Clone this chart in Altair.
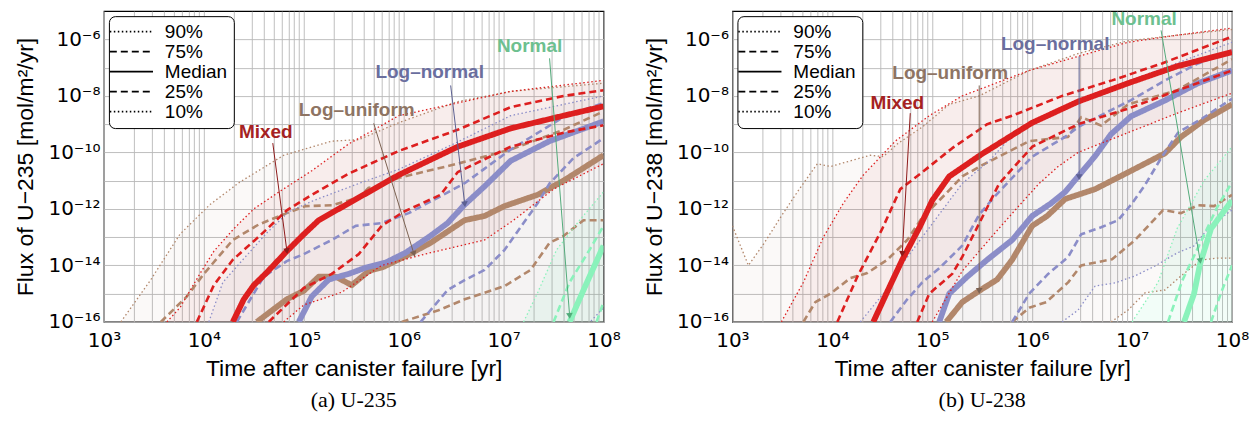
import math
import altair as alt
import pandas as pd

# ---------------- values ----------------
# every line: list of (log10 time [yr], log10 flux [mol/m2/yr])
# ---- (a) U-235 ----
A_MIX_90 = [(3.63,-16),(3.76,-15.5),(3.96,-14.3),(4.1,-13.5),(4.3,-12.7),(4.5,-12.0),(4.73,-11.45),(5.08,-10.65),(5.45,-9.7),(5.95,-8.7),(6.54,-8.25),(7.07,-7.84),(8.0,-7.45)]
A_MIX_75 = [(3.93,-16),(4.1,-14.7),(4.29,-13.8),(4.56,-12.95),(4.83,-12.05),(5.08,-11.5),(5.45,-10.75),(5.95,-9.95),(6.54,-9.2),(7.07,-8.4),(7.6,-8.0),(8.0,-7.8)]
A_MIX_50 = [(4.29,-16),(4.4,-15.2),(4.5,-14.7),(4.63,-14.25),(4.83,-13.5),(5.0,-12.9),(5.15,-12.4),(5.3,-12.1),(5.55,-11.6),(5.95,-10.8),(6.54,-9.8),(7.07,-9.15),(7.6,-8.7),(8.0,-8.37)]
A_MIX_25 = [(4.65,-16),(5.0,-14.8),(5.28,-14.3),(5.55,-13.6),(5.78,-12.6),(6.0,-12.1),(6.37,-11.5),(6.54,-10.7),(7.07,-9.8),(7.6,-9.3),(8.0,-9.04)]
A_MIX_10 = [(4.8,-16),(5.0,-15.4),(5.38,-14.95),(5.78,-14.0),(6.27,-13.55),(6.81,-13.1),(7.1,-12.4),(7.5,-11.3),(8.0,-10.4)]

A_LU_90 = [(3.17,-16),(3.47,-14.5),(3.76,-12.9),(4.06,-11.85),(4.36,-11.05),(4.8,-10.1),(5.28,-9.6),(5.55,-9.55),(5.95,-8.95),(6.54,-8.2),(7.07,-7.84),(8.0,-7.55)]
A_LU_75 = [(3.57,-16),(3.83,-15.1),(4.0,-14.3),(4.29,-13.1),(4.55,-12.55),(4.83,-12.15),(5.02,-11.9),(5.28,-11.87),(5.55,-11.6),(5.65,-11.25),(5.75,-11.2),(5.95,-10.9),(6.54,-10.4),(7.07,-9.9),(7.6,-9.2),(8.0,-8.55)]
A_LU_50 = [(4.53,-16),(4.83,-15.2),(5.0,-14.9),(5.15,-14.4),(5.32,-14.4),(5.48,-14.7),(5.65,-14.2),(5.8,-14.05),(6.02,-13.67),(6.27,-13.2),(6.61,-12.4),(6.81,-12.25),(7.01,-11.9),(7.34,-11.5),(7.6,-11.0),(8.0,-10.1)]
A_LU_25 = [(5.98,-16),(6.34,-15.6),(6.61,-15.2),(6.81,-14.97),(7.01,-14.73),(7.27,-14.16),(7.46,-13.2),(7.6,-12.96),(7.8,-12.4),(8.0,-12.4)]
A_LU_10 = [(3.0,-17),(8.0,-17)]

A_LN_90 = [(4.05,-16),(4.19,-14.6),(4.39,-13.8),(4.63,-12.85),(4.85,-12.1),(5.1,-11.7),(5.55,-11.1),(5.95,-10.6),(6.5,-9.7),(7.07,-8.7),(8.0,-8.0)]
A_LN_75 = [(4.33,-16),(4.6,-14.4),(4.83,-13.85),(5.0,-13.6),(5.28,-13.1),(5.52,-12.6),(5.78,-12.5),(6.05,-12.15),(6.37,-11.55),(6.61,-11.09),(6.8,-10.6),(7.07,-9.9),(7.6,-8.75),(8.0,-8.25)]
A_LN_50 = [(4.95,-16),(5.08,-15.1),(5.25,-14.5),(5.45,-14.3),(5.62,-14.08),(5.82,-13.9),(6.02,-13.55),(6.27,-12.95),(6.44,-12.5),(6.61,-11.85),(6.81,-11.2),(7.07,-10.3),(7.46,-9.6),(8.0,-8.9)]
A_LN_25 = [(6.17,-16),(6.44,-14.87),(6.61,-14.52),(6.81,-14.16),(7.01,-13.45),(7.34,-11.8),(7.46,-11.1),(7.7,-10.2),(8.0,-9.5)]
A_LN_10 = [(7.6,-17),(8.0,-15.5)]

A_NO_90 = [(7.2,-16),(7.34,-14.97),(7.53,-13.45),(7.76,-12.4),(8.0,-11.4)]
A_NO_75 = [(7.5,-16),(7.66,-14.6),(7.86,-13.45),(8.0,-12.6)]
A_NO_50 = [(7.66,-16),(7.8,-14.87),(8.0,-13.3)]
A_NO_25 = [(7.93,-16),(8.0,-15.3)]
A_NO_10 = [(7.9,-17),(8.0,-17)]

# ---- (b) U-238 ----
B_MIX_90 = [(3.49,-16),(3.71,-14.6),(3.91,-13.0),(4.11,-11.8),(4.31,-10.8),(4.63,-9.6),(4.97,-8.7),(5.3,-8.0),(5.97,-7.1),(6.46,-6.6),(6.96,-6.1),(7.45,-5.85),(8.0,-5.6)]
B_MIX_75 = [(4.05,-16),(4.25,-14.4),(4.5,-12.7),(4.68,-11.3),(4.9,-10.7),(5.2,-9.85),(5.55,-9.0),(5.8,-8.7),(6.3,-8.0),(6.8,-7.45),(7.3,-6.85),(8.0,-5.9)]
B_MIX_50 = [(4.41,-16),(4.58,-14.7),(4.7,-13.8),(4.88,-12.6),(5.0,-11.7),(5.17,-10.85),(5.5,-10.05),(6.0,-8.95),(6.46,-8.2),(6.96,-7.55),(7.45,-6.95),(8.0,-6.45)]
B_MIX_25 = [(4.85,-16),(4.97,-15.0),(5.2,-14.3),(5.3,-13.7),(5.5,-12.3),(5.67,-11.1),(6.0,-9.8),(6.46,-9.0),(6.96,-8.45),(7.46,-7.8),(8.0,-7.1)]
B_MIX_10 = [(5.0,-16),(5.3,-14.2),(5.64,-12.8),(5.84,-12.0),(6.07,-11.1),(6.26,-10.5),(6.46,-10.0),(6.96,-9.3),(7.46,-8.6),(8.0,-7.9)]

B_LU_90 = [(3.0,-12.6),(3.16,-14.0),(3.32,-13.2),(3.49,-12.25),(3.65,-11.4),(3.85,-10.4),(3.98,-10.5),(4.18,-10.3),(4.38,-10.1),(4.51,-10.15),(4.65,-9.7),(4.9,-9.1),(5.17,-8.3),(5.47,-8.0),(5.97,-7.1),(6.46,-6.5),(6.96,-6.05),(7.45,-5.85),(8.0,-5.65)]
B_LU_75 = [(3.71,-16),(3.83,-15.3),(3.98,-15.0),(4.18,-14.45),(4.35,-14.27),(4.55,-13.8),(4.75,-13.1),(4.9,-12.3),(5.14,-11.45),(5.3,-10.85),(5.5,-10.45),(5.97,-9.6),(6.36,-9.45),(6.49,-8.75),(6.69,-9.05),(6.96,-8.3),(7.45,-7.8),(8.0,-6.7)]
B_LU_50 = [(5.14,-16),(5.3,-15.3),(5.47,-14.9),(5.65,-14.5),(5.8,-13.8),(6.0,-12.6),(6.15,-12.25),(6.33,-11.65),(6.63,-11.3),(6.99,-10.65),(7.33,-10.03),(7.49,-9.45),(7.72,-8.86),(8.0,-8.3)]
B_LU_25 = [(5.8,-16),(5.97,-15.5),(6.14,-15.3),(6.36,-14.6),(6.49,-14.0),(6.8,-13.78),(7.03,-13.1),(7.31,-12.04),(7.49,-12.15),(7.66,-11.87),(7.82,-11.9),(8.0,-11.5)]
B_LU_10 = [(6.79,-16),(6.96,-15.58),(7.13,-14.97),(7.33,-14.87),(7.49,-14.37),(7.69,-13.81),(7.85,-13.74),(8.0,-13.74)]

B_LN_90 = [(4.28,-16),(4.51,-15.0),(4.71,-13.9),(4.9,-13.0),(5.1,-12.05),(5.3,-11.1),(5.57,-10.3),(5.8,-9.4),(6.3,-8.4),(6.79,-7.7),(7.33,-7.0),(8.0,-6.1)]
B_LN_75 = [(4.58,-16),(4.75,-15.2),(4.9,-14.6),(5.07,-14.1),(5.3,-13.3),(5.47,-12.2),(5.64,-11.5),(5.8,-10.9),(6.0,-10.15),(6.33,-9.45),(6.46,-9.1),(6.79,-8.5),(6.99,-8.15),(7.33,-7.45),(7.66,-6.85),(8.0,-6.4)]
B_LN_50 = [(5.07,-16),(5.17,-15.0),(5.35,-14.4),(5.55,-13.8),(5.8,-13.1),(6.0,-12.25),(6.19,-11.8),(6.33,-11.4),(6.46,-10.85),(6.63,-10.13),(6.79,-9.35),(6.99,-8.72),(7.33,-8.16),(7.66,-7.55),(8.0,-7.1)]
B_LN_25 = [(5.8,-16),(5.97,-15.0),(6.16,-14.3),(6.36,-13.7),(6.49,-12.9),(6.69,-12.65),(6.86,-12.4),(6.99,-11.85),(7.13,-11.15),(7.29,-10.2),(7.46,-9.3),(7.7,-8.8),(8.0,-8.1)]
B_LN_10 = [(6.3,-16),(6.46,-15.58),(6.63,-14.73),(6.83,-14.62),(7.03,-14.37),(7.23,-14.02),(7.45,-13.56),(7.62,-13.31),(7.78,-12.61),(8.0,-12.04)]

B_NO_90 = [(7.0,-16),(7.26,-14.6),(7.45,-12.7),(7.72,-11.0),(8.0,-9.8)]
B_NO_75 = [(7.36,-16),(7.5,-14.55),(7.67,-13.3),(7.85,-11.95),(8.0,-11.05)]
B_NO_50 = [(7.52,-16),(7.62,-15.0),(7.68,-13.95),(7.79,-12.7),(8.0,-11.7)]
B_NO_25 = [(7.79,-16),(7.89,-14.97),(8.0,-14.0)]
B_NO_10 = [(7.95,-17),(8.0,-17)]

# annotations: (distribution, text lx, text ly, arrow from lx, ly, arrow to lx, ly)
A_NOTES = [("Mixed", 4.62, -9.29, 4.69, -9.67, 4.83, -13.46),
           ("Log–uniform", 5.53, -8.51, 5.70, -8.97, 6.10, -13.56),
           ("Log–normal", 6.26, -7.17, 6.47, -7.63, 6.61, -11.8),
           ("Normal", 7.26, -6.25, 7.46, -6.67, 7.66, -15.75)]
B_NOTES = [("Mixed", 4.65, -8.26, 4.78, -8.61, 4.70, -13.56),
           ("Log–uniform", 5.18, -7.2, 5.47, -7.63, 5.47, -14.87),
           ("Log–normal", 6.23, -6.18, 6.47, -6.6, 6.47, -10.84),
           ("Normal", 7.12, -5.26, 7.29, -5.68, 7.68, -13.81)]

DISTS = ["Log–uniform", "Log–normal", "Mixed", "Normal"]
LINE_COLORS = ["#b2876b", "#8b8dc8", "#dd1f1f", "#8af2bb"]
BAND_COLORS = ["#a88a74", "#80809a", "#d23434", "#5fe6a0"]
BAND_OPACITY = [0.05, 0.05, 0.06, 0.08]
LABEL_COLORS = ["#8e7463", "#6a6e9e", "#a52222", "#6dc08f"]
ARROW_COLORS = ["#7c6252", "#5c6092", "#8e1b1b", "#52ab7a"]

QUANTILES = ["90%", "75%", "Median", "25%", "10%"]
DASHES = [[1.5, 2.5], [7, 4], [1, 0], [7, 4], [1.5, 2.5]]
WIDTHS = [1.3, 2.6, 5.8, 2.6, 1.3]

X_DOMAIN = [1e3, 1e8]
Y_DOMAIN = [1e-16, 1e-5]
X_GRID = [m * 10 ** e for e in range(3, 8) for m in range(1, 10)] + [10 ** 8]
X_LABELS = {3: "10³", 4: "10⁴", 5: "10⁵", 6: "10⁶", 7: "10⁷", 8: "10⁸"}
Y_GRID = [float("1e%d" % e) for e in range(-16, -5)]
Y_LABELS = {-16: "10⁻¹⁶", -14: "10⁻¹⁴", -12: "10⁻¹²", -10: "10⁻¹⁰", -8: "10⁻⁸", -6: "10⁻⁶"}

W, H = 500, 311
FLOOR = -17  # below the plotted range, closes the bands
FONT = "Liberation Sans"
TICK_FONT = "DejaVu Sans"


def label_expr(mapping):
    e = "round(log(datum.value)/LN10)"
    s = "''"
    for k, v in sorted(mapping.items(), reverse=True):
        s = "(%s == %d ? '%s' : %s)" % (e, k, v, s)
    return "abs(log(datum.value)/LN10 - %s) > 0.001 ? '' : %s" % (e, s)


def enc_x(field="t"):
    return alt.X(field + ":Q", scale=alt.Scale(type="log", domain=X_DOMAIN, nice=False),
                 axis=alt.Axis(values=X_GRID, labelExpr=label_expr(X_LABELS),
                               title="Time after canister failure [yr]", grid=True,
                               ticks=False, domain=False, labelOverlap=False,
                               labelFlush=False, labelPadding=9, titlePadding=7))


def enc_y(field, title):
    return alt.Y(field + ":Q", scale=alt.Scale(type="log", domain=Y_DOMAIN, nice=False),
                 axis=alt.Axis(values=Y_GRID, labelExpr=label_expr(Y_LABELS), title=title,
                               grid=True, ticks=False, domain=False, labelOverlap=False,
                               labelFlush=False, labelPadding=4, titlePadding=10))


def panel(lines, notes, ytitle, caption):
    # lines[d] = [q90, q75, q50, q25, q10]
    rows = []
    order_q = [4, 3, 1, 0, 2]  # draw 10%,25%,75%,90% then median
    for d in DISTS:
        for qi in order_q:
            for i, (lx, ly) in enumerate(lines[d][qi]):
                rows.append(dict(dist=d, q=QUANTILES[qi], key=d + QUANTILES[qi], i=i,
                                 w=WIDTHS[qi], t=10 ** lx, f=10 ** ly))
    ldf = pd.DataFrame(rows)

    layers = []
    for k, d in enumerate(DISTS):
        hi = lines[d][0]
        lo = lines[d][4]
        poly = hi + lo[::-1] + [(lo[0][0], FLOOR), (hi[0][0], FLOOR)]
        bdf = pd.DataFrame([dict(i=i, t=10 ** a, f=10 ** b) for i, (a, b) in enumerate(poly)])
        layers.append(alt.Chart(bdf).mark_line(
            clip=True, fill=BAND_COLORS[k], fillOpacity=BAND_OPACITY[k],
            strokeOpacity=0, strokeWidth=0).encode(
            x=enc_x(), y=enc_y("f", ytitle), order="i:Q"))

    layers.append(alt.Chart(ldf).mark_line(clip=True, strokeCap="butt", strokeJoin="round").encode(
        x=enc_x(), y=enc_y("f", ytitle),
        color=alt.Color("dist:N", scale=alt.Scale(domain=DISTS, range=LINE_COLORS), legend=None),
        strokeDash=alt.StrokeDash("q:N", scale=alt.Scale(domain=QUANTILES, range=DASHES),
                                  legend=alt.Legend(title=None, orient="top-left", offset=5,
                                                    fillColor="white", strokeColor="black",
                                                    cornerRadius=6, padding=6,
                                                    symbolType="M-2.7,0L2.7,0", symbolSize=256,
                                                    symbolStrokeColor="black", symbolStrokeWidth=1.8,
                                                    symbolOffset=7, labelOffset=24,
                                                    labelFont=FONT, labelFontSize=19,
                                                    labelColor="black", rowPadding=0)),
        strokeWidth=alt.StrokeWidth("w:Q", scale=None),
        detail="key:N", order="i:Q"))

    nrows = []
    for (d, tx, ty, ax, ay, bx, by) in notes:
        k = DISTS.index(d)
        dx = (bx - ax) * W / 5.0
        dy = -(by - ay) * H / 11.0
        ang = math.degrees(math.atan2(dx, -dy)) % 360
        nrows.append(dict(label=d, tt=10 ** tx, tf=10 ** ty, a=10 ** ax, af=10 ** ay,
                          b=10 ** bx, bf=10 ** by, ang=ang, lc=LABEL_COLORS[k], ac=ARROW_COLORS[k]))
    ndf = pd.DataFrame(nrows)
    base = alt.Chart(ndf)
    layers.append(base.mark_rule(strokeWidth=1).encode(
        x=enc_x("a"), y=enc_y("af", ytitle), x2="b:Q", y2="bf:Q",
        color=alt.Color("ac:N", scale=None)))
    layers.append(base.mark_point(shape="triangle", filled=True, size=45, opacity=1).encode(
        x=enc_x("b"), y=enc_y("bf", ytitle), angle=alt.Angle("ang:Q", scale=None),
        color=alt.Color("ac:N", scale=None)))
    layers.append(base.mark_text(font=FONT, fontSize=19, fontWeight="bold", clip=False).encode(
        x=enc_x("tt"), y=enc_y("tf", ytitle), text="label:N",
        color=alt.Color("lc:N", scale=None)))

    return alt.layer(*layers).properties(
        width=W, height=H,
        title=alt.TitleParams(caption, orient="bottom", font="Liberation Serif", fontSize=22,
                              fontWeight="normal", color="black", offset=9, anchor="middle"))


def pack(m90, m75, m50, m25, m10):
    return [m90, m75, m50, m25, m10]


A_LINES = {"Mixed": pack(A_MIX_90, A_MIX_75, A_MIX_50, A_MIX_25, A_MIX_10),
           "Log–uniform": pack(A_LU_90, A_LU_75, A_LU_50, A_LU_25, A_LU_10),
           "Log–normal": pack(A_LN_90, A_LN_75, A_LN_50, A_LN_25, A_LN_10),
           "Normal": pack(A_NO_90, A_NO_75, A_NO_50, A_NO_25, A_NO_10)}
B_LINES = {"Mixed": pack(B_MIX_90, B_MIX_75, B_MIX_50, B_MIX_25, B_MIX_10),
           "Log–uniform": pack(B_LU_90, B_LU_75, B_LU_50, B_LU_25, B_LU_10),
           "Log–normal": pack(B_LN_90, B_LN_75, B_LN_50, B_LN_25, B_LN_10),
           "Normal": pack(B_NO_90, B_NO_75, B_NO_50, B_NO_25, B_NO_10)}

left = panel(A_LINES, A_NOTES, "Flux of U−235 [mol/m²/yr]", "(a) U-235")
right = panel(B_LINES, B_NOTES, "Flux of U−238 [mol/m²/yr]", "(b) U-238")

chart = alt.hconcat(left, right, spacing=21).resolve_scale(
    strokeDash="independent"
).resolve_legend(strokeDash="independent").properties(
    padding={"left": 6, "top": 0, "right": 0, "bottom": 0}
).configure_view(stroke="black", strokeWidth=1.2).configure_axis(
    labelFont=TICK_FONT, labelFontSize=20, labelColor="black", titleFont=FONT, titleFontSize=23,
    titleFontWeight="normal", titleColor="black", gridColor="#b8b8b8", gridWidth=0.9
)

chart.save("out.html", embed_options={"renderer": "svg", "actions": False})
